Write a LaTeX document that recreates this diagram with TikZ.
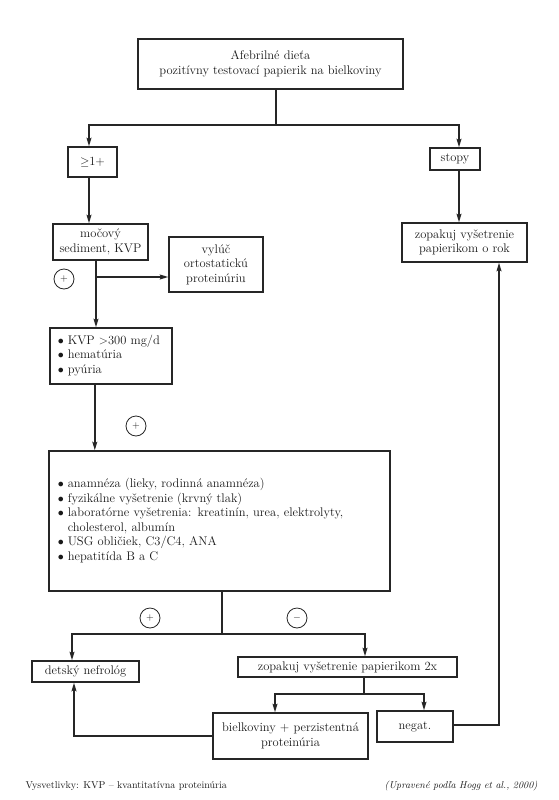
\documentclass[tikz,border=0pt]{standalone}
\usetikzlibrary{arrows.meta}
\definecolor{ink}{RGB}{38,38,38}
\definecolor{txt}{RGB}{25,25,25}
\begin{document}
\begin{tikzpicture}[x=1pt,y=-1pt,
  every node/.style={font=\fontsize{12.5}{14.6}\selectfont, text=txt},
  box/.style={draw=ink, line width=1.6pt, inner sep=0pt, align=center, rectangle},
  ln/.style={draw=ink, line width=1.4pt},
  arr/.style={ln, -{Stealth[length=8.5pt,width=5pt,inset=1.5pt]}},
  sign/.style={circle, draw=ink, line width=0.8pt, minimum size=20pt, inner sep=0pt, font=\fontsize{10}{10}\selectfont}]
\useasboundingbox (0,0) rectangle (558,800);

\node[box, minimum width=265pt, minimum height=50pt] (top) at (270.5,64) {Afebrilné dieťa\\pozitívny testovací papierik na bielkoviny};
\node[box, minimum width=49pt, minimum height=30pt] (ge) at (92.5,162) {$\geq$1+};
\node[box, minimum width=50pt, minimum height=22pt] (stopy) at (455,159) {stopy};
\node[box, minimum width=125pt, minimum height=39pt] (zop1) at (464.5,242.5) {zopakuj vyšetrenie\\papierikom o rok};
\node[box, minimum width=95pt, minimum height=36pt] (moc) at (100.5,242) {močový\\sediment, KVP};
\node[box, minimum width=94pt, minimum height=55pt] (vyl) at (216,264.5) {vylúč\\ortostatickú\\proteinúriu};
\node[box, text width=106pt, inner xsep=8pt, minimum height=56pt, align=left, anchor=west] (kvp) at (49,356)
  {\begin{tabular}{@{}l@{\hspace{4pt}}l@{}}$\bullet$&KVP $>$300 mg/d\\$\bullet$&hematúria\\$\bullet$&pyúria\end{tabular}};
\node[box, text width=323pt, inner xsep=9pt, minimum height=140pt, anchor=west, align=left] (big) at (48,521)
  {\begin{tabular}{@{}l@{\hspace{4pt}}l@{}}$\bullet$&anamnéza (lieky, rodinná anamnéza)\\
  $\bullet$&fyzikálne vyšetrenie (krvný tlak)\\
  $\bullet$&laboratórne vyšetrenia: kreatinín, urea, elektrolyty,\\
  &cholesterol, albumín\\
  $\bullet$&USG obličiek, C3/C4, ANA\\
  $\bullet$&hepatitída B a C\end{tabular}};
\node[box, minimum width=107pt, minimum height=21pt] (det) at (85.5,671.5) {detský nefrológ};
\node[box, minimum width=219pt, minimum height=20pt] (zop2) at (347.5,667) {zopakuj vyšetrenie papierikom 2x};
\node[box, minimum width=155pt, minimum height=46pt] (biel) at (290.5,736) {bielkoviny + perzistentná\\proteinúria};
\node[box, minimum width=76pt, minimum height=31pt] (neg) at (415,726.5) {negat.};

\node[sign] (p1) at (64,279) {+};
\node[sign] (p2) at (136,426) {+};
\node[sign] (p3) at (150,618) {+};
\node[sign] (m1) at (297,618) {$-$};

\coordinate (j1) at (276,125);
\coordinate (jm) at (96,277);
\coordinate (j2) at (222,634);
\coordinate (j3) at (364,694);

\draw[ln] (top.south -| j1) -- (j1);
\draw[arr] (j1) -| ([xshift=-3.5pt]ge.north);
\draw[arr] (j1) -| ([xshift=4pt]stopy.north);
\draw[arr] ([xshift=-3.5pt]ge.south) -- ([xshift=-3.5pt]ge.south |- moc.north);
\draw[arr] ([xshift=4pt]stopy.south) -- ([xshift=4pt]stopy.south |- zop1.north);
\draw[arr] (moc.south -| jm) -- (jm |- kvp.north);
\draw[arr] (jm) -- (jm -| vyl.west);
\draw[arr] ([xshift=-16pt]kvp.south) -- ([xshift=-16pt]kvp.south |- big.north);
\draw[ln] (big.south -| j2) -- (j2);
\draw[arr] (j2) -| ([xshift=-13.5pt]det.north);
\draw[arr] (j2) -| ([xshift=17.5pt]zop2.north);
\draw[ln] (zop2.south -| j3) -- (j3);
\draw[arr] (j3) -| ([xshift=-15.5pt]biel.north);
\draw[arr] (j3) -| ([xshift=9pt]neg.north);
\draw[arr] (biel.west) -| ([xshift=-11.5pt]det.south);
\draw[arr] ([yshift=1.5pt]neg.east) -| ([xshift=34.5pt]zop1.south);

\node[anchor=base west, font=\fontsize{10}{12}\selectfont] (leg) at (22,788) {Vysvetlivky: KVP -- kvantitatívna proteinúria};
\node[anchor=base east, font=\fontsize{10}{12}\selectfont\itshape] (src) at (541,788) {(Upravené podľa Hogg et al., 2000)};
\end{tikzpicture}
\end{document}
